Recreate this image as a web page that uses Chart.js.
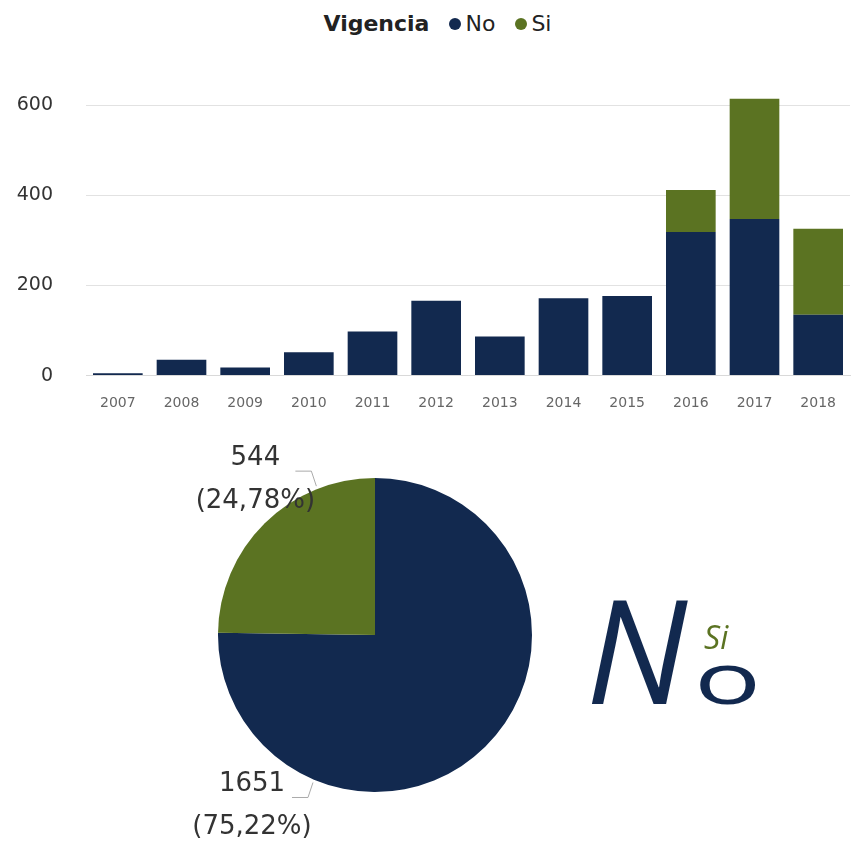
<!DOCTYPE html>
<html>
<head>
<meta charset="utf-8">
<script src="https://cdn.jsdelivr.net/npm/chart.js@4.4.0/dist/chart.umd.min.js"></script>
<style>
  body { margin: 0; background: #fff; width: 859px; height: 846px; position: relative; overflow: hidden; font-family: "DejaVu Sans", sans-serif; }
  .legend { position: absolute; top: 11px; left: 0; width: 859px; display: flex; justify-content: center; align-items: center; font-size: 22px; color: #222; padding-left: 8px; }
  .legend b { margin-right: 14px; }
  .dot { display: inline-block; width: 12px; height: 12px; border-radius: 50%; margin: 0 4px 0 6px; }
  #bars { position: absolute; left: 0; top: 61px; }
  #pie { position: absolute; left: 150px; top: 424px; }
  .cloud { position: absolute; font-family: "Open Sans", sans-serif; line-height: 1; white-space: nowrap; }
</style>
</head>
<body>
<div class="legend">
  <b>Vigencia</b>
  <span class="dot" style="background:#12294f"></span><span>No</span>
  <span class="dot" style="background:#5b7322; margin-left:20px"></span><span>Si</span>
</div>
<canvas id="bars" width="859" height="359"></canvas>
<canvas id="pie" width="450" height="422"></canvas>
<div class="cloud" style="left:586px; top:576px; color:#12294f;"><span style="font-size:144px; font-style:italic;">N</span><span style="font-size:72px; display:inline-block; transform:scaleX(1.55); transform-origin:left bottom; margin-left:7px;">o</span></div>
<div class="cloud" style="left:704px; top:621px; color:#5b7322; font-size:32px; font-style:italic;">Si</div>

<script>
const years = ['2007','2008','2009','2010','2011','2012','2013','2014','2015','2016','2017','2018'];
const noValues = [5, 35, 18, 52, 98, 166, 87, 172, 177, 319, 348, 135];
const siValues = [0, 0, 0, 0, 0, 0, 0, 0, 0, 93, 267, 191];

const pieLabelsText = ['No', 'Si'];
const pieValues = [1651, 544];

const navy = '#12294f';
const green = '#5b7322';

const barChart = new Chart(document.getElementById('bars'), {
  type: 'bar',
  data: {
    labels: years,
    datasets: [
      { label: 'No', data: noValues, backgroundColor: navy, clip: false },
      { label: 'Si', data: siValues, backgroundColor: green, clip: false }
    ]
  },
  options: {
    responsive: false,
    animation: false,
    layout: { padding: { top: 6, right: 9, left: 0, bottom: 0 } },
    plugins: { legend: { display: false }, tooltip: { enabled: false } },
    datasets: { bar: { barPercentage: 0.78, categoryPercentage: 1 } },
    scales: {
      x: {
        stacked: true,
        grid: { display: false },
        border: { display: true, color: '#d9d9d9' },
        ticks: { color: '#666', font: { size: 14, family: 'DejaVu Sans' }, padding: 11 },
        afterFit: s => { s.height = 43; }
      },
      y: {
        stacked: true,
        min: 0,
        max: 600,
        grid: { color: '#e2e2e2', drawTicks: false },
        border: { display: false },
        ticks: { stepSize: 200, color: '#333', font: { size: 19, family: 'DejaVu Sans' }, padding: 33 },
        afterFit: s => { s.width = 86; }
      }
    }
  }
});

const total = pieValues.reduce((a, b) => a + b, 0);

const pieLabels = {
  id: 'pieLabels',
  afterDatasetsDraw(chart) {
    const ctx = chart.ctx;
    const meta = chart.getDatasetMeta(0);
    const angles = [112.8, 248.5];
    meta.data.forEach((arc, i) => {
      const a = angles[i] * Math.PI / 180;
      const r = arc.outerRadius + 3;
      const px = arc.x + Math.cos(a) * r;
      const py = arc.y + Math.sin(a) * r;
      const dir = Math.sin(a) > 0 ? 1 : -1;
      const ex = px - 5, ey = py + dir * 15;
      const hx = ex - 16;
      ctx.save();
      ctx.strokeStyle = '#aaa';
      ctx.lineWidth = 1;
      ctx.beginPath();
      ctx.moveTo(px, py);
      ctx.lineTo(ex, ey);
      ctx.lineTo(hx, ey);
      ctx.stroke();
      ctx.fillStyle = '#333';
      ctx.font = '26px "DejaVu Sans"';
      ctx.textAlign = 'center';
      ctx.textBaseline = 'middle';
      const pct = (pieValues[i] / total * 100).toFixed(2).replace('.', ',');
      const tx = hx - 40;
      ctx.fillText(String(pieValues[i]), tx, ey - 13);
      ctx.fillText('(' + pct + '%)', tx, ey + 30);
      ctx.restore();
    });
  }
};

const pieChart = new Chart(document.getElementById('pie'), {
  type: 'pie',
  data: {
    labels: pieLabelsText,
    datasets: [{ data: pieValues, backgroundColor: [navy, green], borderWidth: 0 }]
  },
  options: {
    responsive: false,
    animation: false,
    layout: { padding: { top: 54, bottom: 54, left: 68, right: 68 } },
    plugins: { legend: { display: false }, tooltip: { enabled: false } }
  },
  plugins: [pieLabels]
});
</script>
</body>
</html>
